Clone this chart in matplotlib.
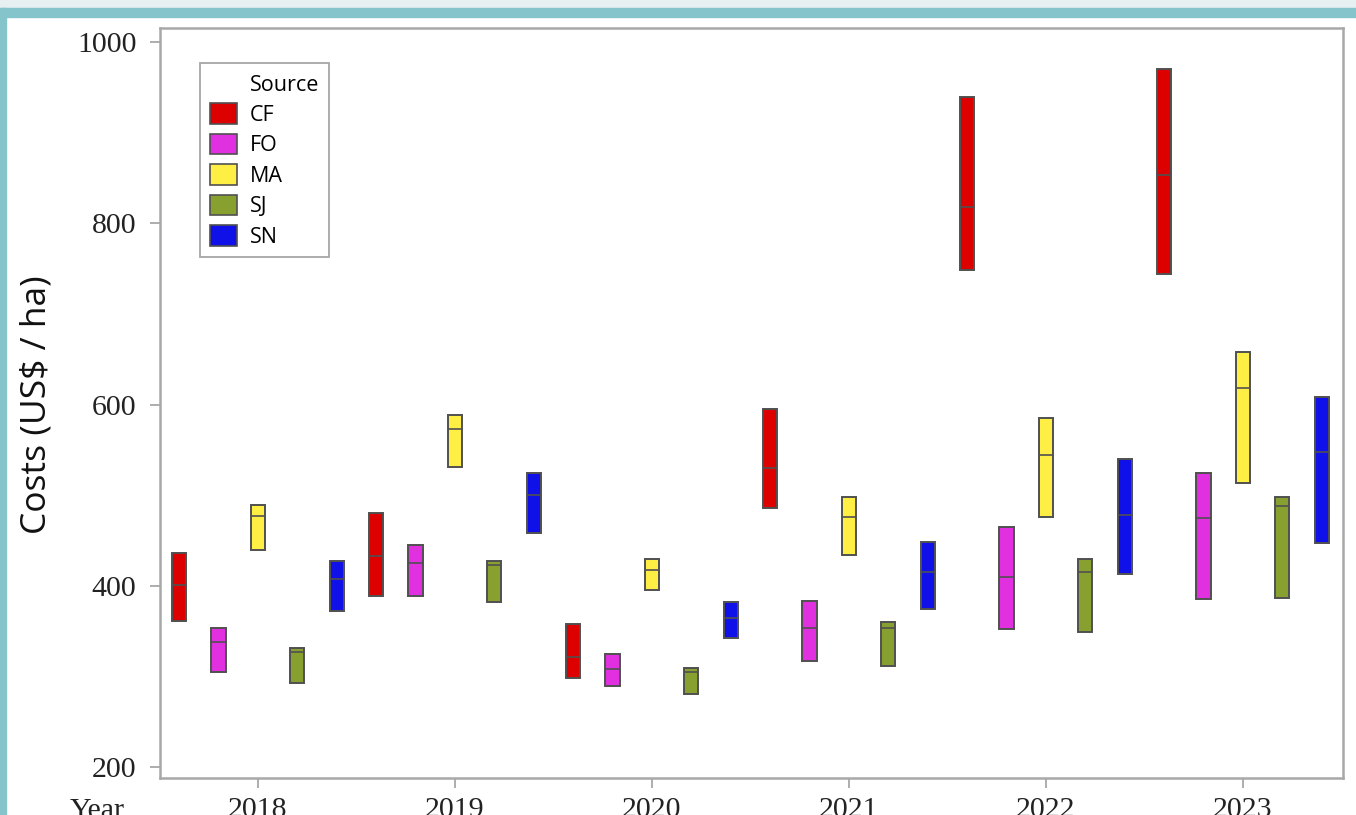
import matplotlib
matplotlib.use("Agg")
import matplotlib.pyplot as plt
from matplotlib.patches import Patch, Rectangle

# data (US$/ha): lower edge, middle line, upper edge
years = [2018, 2019, 2020, 2021, 2022, 2023]
sources = ["CF", "FO", "MA", "SJ", "SN"]

cf_low = [361, 389, 298, 486, 748, 744]
cf_mid = [401, 433, 321, 530, 818, 853]
cf_high = [436, 480, 358, 595, 939, 970]

fo_low = [305, 389, 289, 317, 352, 385]
fo_mid = [338, 425, 308, 353, 410, 475]
fo_high = [353, 445, 325, 383, 465, 525]

ma_low = [440, 531, 395, 434, 476, 514]
ma_mid = [477, 573, 418, 476, 544, 618]
ma_high = [489, 588, 430, 498, 585, 658]

sj_low = [293, 382, 281, 312, 349, 387]
sj_mid = [327, 423, 305, 353, 415, 488]
sj_high = [331, 427, 309, 360, 430, 498]

sn_low = [372, 458, 342, 375, 413, 447]
sn_mid = [408, 500, 364, 415, 478, 548]
sn_high = [427, 524, 382, 448, 540, 608]

lows = [cf_low, fo_low, ma_low, sj_low, sn_low]
mids = [cf_mid, fo_mid, ma_mid, sj_mid, sn_mid]
highs = [cf_high, fo_high, ma_high, sj_high, sn_high]
colors = ["#DD0000", "#E030E0", "#FFEE44", "#88A030", "#1010E8"]
offsets = [-0.4, -0.2, 0.0, 0.2, 0.4]

fig = plt.figure(figsize=(13.56, 8.15), dpi=100)

# teal frame around the picture
fig.patches.append(Rectangle((0, 1 - 8 / 815), 1, 8 / 815, transform=fig.transFigure,
                             color="#E6F0F2", zorder=0))
fig.patches.append(Rectangle((0, 1 - 17 / 815), 1, 9 / 815, transform=fig.transFigure,
                             color="#86C4CC", zorder=0))
fig.patches.append(Rectangle((0, 0), 6 / 1356, 1 - 8 / 815, transform=fig.transFigure,
                             color="#86C4CC", zorder=0))

ax = fig.add_axes([160 / 1356, 1 - 778 / 815, 1183 / 1356, 750 / 815])

w = 0.072
for i in range(len(sources)):
    xs = [y + offsets[i] for y in years]
    heights = [h - l for h, l in zip(highs[i], lows[i])]
    ax.bar(xs, heights, bottom=lows[i], width=w, color=colors[i],
           edgecolor="#505050", linewidth=1.4, zorder=3)
    ax.hlines(mids[i], [x - w / 2 for x in xs], [x + w / 2 for x in xs],
              color="#505050", linewidth=1.2, zorder=4)

ax.set_xlim(2017.503, 2023.508)
ax.set_ylim(188, 1015.5)
ax.set_xticks(years)
ax.set_yticks([200, 400, 600, 800, 1000])

for s in ax.spines.values():
    s.set_color("#A8A8A8")
    s.set_linewidth(1.8)

ax.tick_params(axis="both", colors="#A0A0A0", length=7, width=1.2,
               labelcolor="#222222", labelsize=21.5)
ax.tick_params(axis="y", pad=10)
ax.tick_params(axis="x", pad=7)
for lab in ax.get_xticklabels() + ax.get_yticklabels():
    lab.set_fontfamily("Liberation Serif")

fig.text(97 / 1356, 1 - 811 / 815, "Year", fontsize=21.5, family="Liberation Serif",
         color="#222222", ha="center", va="center")

fig.text(37 / 1356, 1 - 405 / 815, "Costs (US$ / ha)", rotation=90, fontsize=25.5,
         family="Open Sans", color="#111111", ha="center", va="center")

handles = [Patch(facecolor="none", edgecolor="none", label="Source")]
for s, c in zip(sources, colors):
    handles.append(Patch(facecolor=c, edgecolor="#505050", linewidth=1.2, label=s))

leg = ax.legend(handles=handles, loc="upper left", bbox_to_anchor=(0.0338, 0.953),
                prop={"family": "Open Sans", "size": 15.5}, frameon=True, fancybox=False,
                borderpad=0.45, labelspacing=0.36, handlelength=1.25, handleheight=1.1,
                handletextpad=0.6, borderaxespad=0)
leg.get_frame().set_edgecolor("#909090")
leg.get_frame().set_linewidth(1.3)

fig.savefig("out.png", dpi=100)
